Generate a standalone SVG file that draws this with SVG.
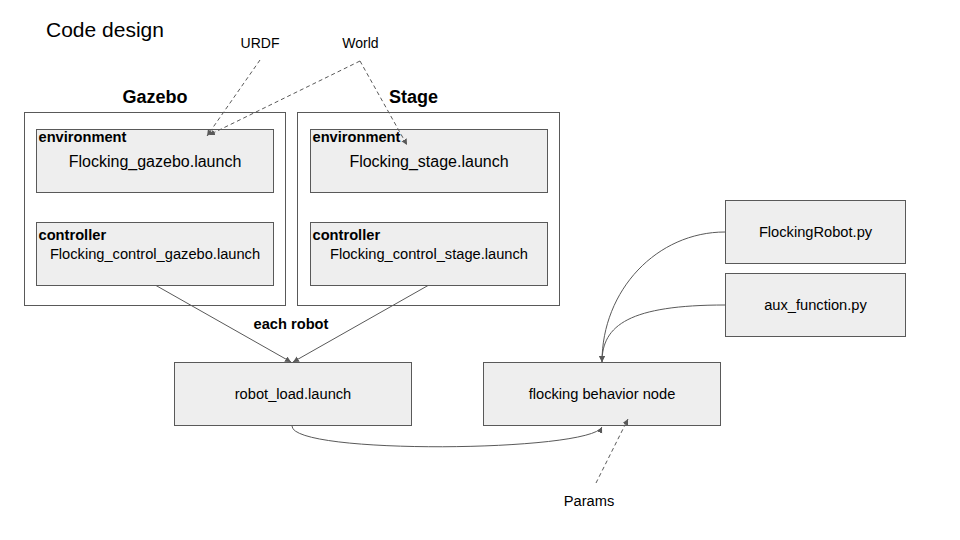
<svg xmlns="http://www.w3.org/2000/svg" width="960" height="540" viewBox="0 0 960 540">
  <defs>
    <marker id="arr" markerUnits="userSpaceOnUse" markerWidth="7" markerHeight="7" refX="6" refY="3" orient="auto">
      <path d="M0,0 L6,3 L0,6 z" fill="#595959"/>
    </marker>
    <style>
      text { font-family: "Liberation Sans", Arial, sans-serif; fill: #000; }
      .t { font-size: 14.67px; }
      .b { font-weight: bold; font-size: 14.67px; }
      .h { font-weight: bold; font-size: 18px; text-anchor: middle; }
      .m { text-anchor: middle; }
      .outer { fill: #ffffff; stroke: #595959; stroke-width: 1; }
      .box { fill: #eeeeee; stroke: #595959; stroke-width: 1; }
      .ln { fill: none; stroke: #595959; stroke-width: 1; marker-end: url(#arr); }
      .dash { stroke-dasharray: 4 3; }
    </style>
  </defs>
  <rect width="960" height="540" fill="#ffffff"/>

  <text x="46" y="37" font-size="21">Code design</text>

  <g id="urdf"><text x="260" y="47.5" font-size="14" class="m">URDF</text></g>
  <g id="world"><text x="360.5" y="47.5" font-size="14" class="m">World</text></g>

  <g id="gazebo">
    <text x="155" y="103" class="h">Gazebo</text>
    <rect class="outer" x="24.5" y="112.5" width="261" height="193"/>
  </g>
  <g id="stage">
    <text x="413.5" y="103" class="h">Stage</text>
    <rect class="outer" x="297.5" y="112.5" width="262" height="193"/>
  </g>

  <g id="gazebo-env">
    <rect class="box" x="36.5" y="129.5" width="237" height="63"/>
    <text x="38.5" y="141.5" class="b">environment</text>
    <text x="155" y="166.5" font-size="16" class="m">Flocking_gazebo.launch</text>
  </g>
  <g id="stage-env">
    <rect class="box" x="310.5" y="129.5" width="237" height="63"/>
    <text x="312.5" y="141.5" class="b">environment</text>
    <text x="429" y="166.5" font-size="16" class="m">Flocking_stage.launch</text>
  </g>

  <g id="gazebo-ctrl">
    <rect class="box" x="36.5" y="222.5" width="237" height="63"/>
    <text x="38.5" y="239.5" class="b">controller</text>
    <text x="155" y="259" class="t m">Flocking_control_gazebo.launch</text>
  </g>
  <g id="stage-ctrl">
    <rect class="box" x="310.5" y="222.5" width="237" height="63"/>
    <text x="312.5" y="239.5" class="b">controller</text>
    <text x="429" y="259" class="t m">Flocking_control_stage.launch</text>
  </g>

  <g id="robot-load">
    <rect class="box" x="174.5" y="362.5" width="237" height="63"/>
    <text x="293" y="399" class="t m">robot_load.launch</text>
  </g>
  <g id="flocking-node">
    <rect class="box" x="483.5" y="362.5" width="237" height="63"/>
    <text x="602" y="399" class="t m">flocking behavior node</text>
  </g>
  <g id="flocking-robot">
    <rect class="box" x="725.5" y="200.5" width="180" height="63"/>
    <text x="815.5" y="237" class="t m">FlockingRobot.py</text>
  </g>
  <g id="aux-function">
    <rect class="box" x="725.5" y="273.5" width="180" height="63"/>
    <text x="815.5" y="310" class="t m">aux_function.py</text>
  </g>
  <g id="params"><text x="589" y="506" class="t m">Params</text></g>

  <g id="connectors">
    <path class="ln dash" d="M260,60 L207,136"/>
    <path class="ln dash" d="M360,61 L209,135"/>
    <path class="ln dash" d="M360,61 L407,145"/>
    <path class="ln" d="M156,285.5 L291,362"/>
    <path class="ln" d="M428,285.5 L293,362"/>
    <text x="291" y="328.5" class="b m">each robot</text>
    <path class="ln" d="M725,232 C657,232 602,290 602,362"/>
    <path class="ln" d="M725,305 C630,305 602,325 602,362"/>
    <path class="ln" d="M292,426 C292,455 590,452 602,427"/>
    <path class="ln dash" d="M596,483 L628,419"/>
  </g>
</svg>
